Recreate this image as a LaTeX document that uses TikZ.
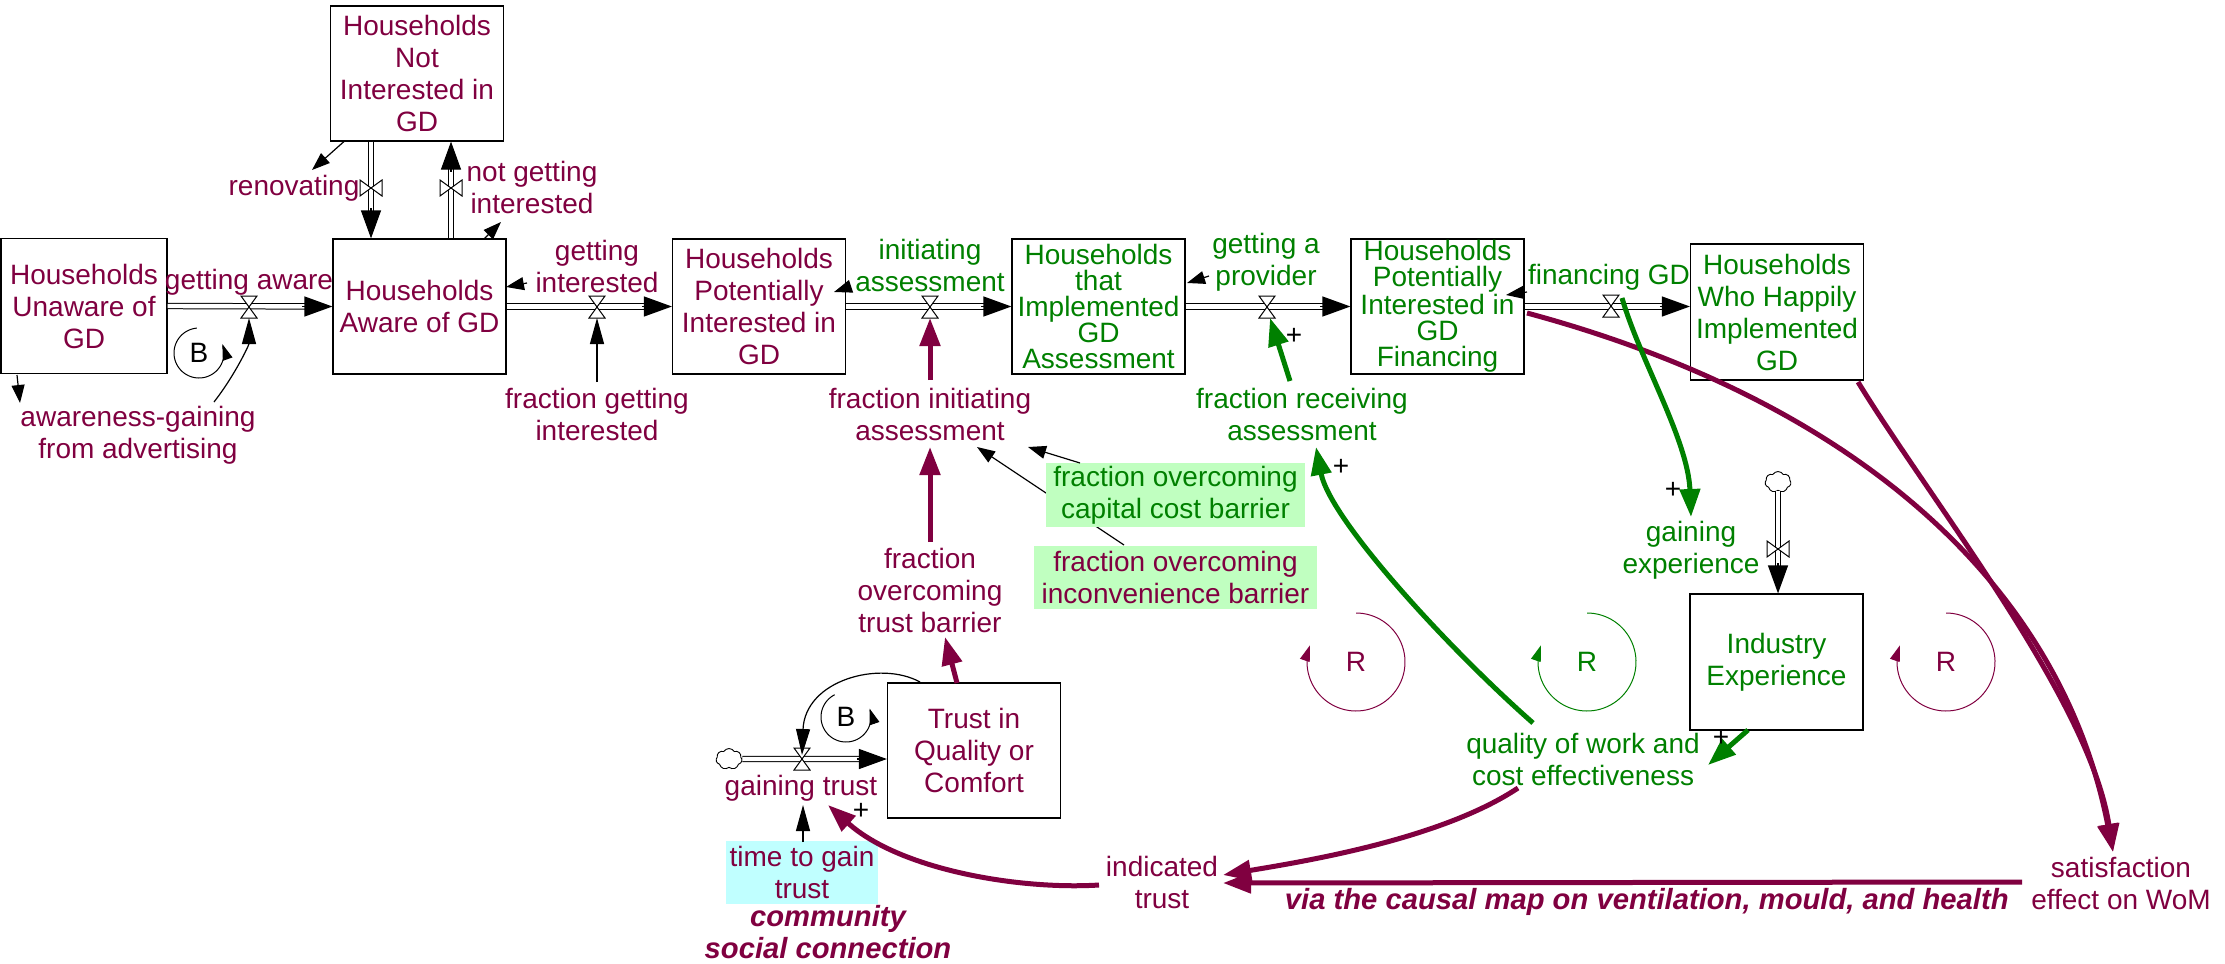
\documentclass[tikz,border=0pt]{standalone}
\usepackage{fontspec}
\setmainfont{Liberation Sans}
\usetikzlibrary{arrows.meta,calc,shapes.symbols}
\definecolor{maroon}{RGB}{128,0,64}
\definecolor{vgreen}{RGB}{0,128,0}
\definecolor{bggreen}{RGB}{192,255,192}
\definecolor{bgcyan}{RGB}{192,255,255}
\newcommand{\fsz}{\fontsize{14}{16}\selectfont}
\newcommand{\fszt}{\fontsize{14}{12.9}\selectfont}
\newcommand{\fszv}{\fontsize{14.6}{16}\selectfont}
\newcommand{\vvalve}[1]{\draw[fill=white,line width=0.5pt] (#1.north west) -- (#1.north east) -- (#1.south west) -- (#1.south east) -- cycle;}
\newcommand{\hvalve}[1]{\draw[fill=white,line width=0.5pt] (#1.north west) -- (#1.south west) -- (#1.north east) -- (#1.south east) -- cycle;}
\begin{document}
\begin{tikzpicture}[x=0.5pt,y=-0.5pt,
  stock/.style={draw=black, line width=0.6pt, minimum width=86.5pt, minimum height=67.5pt, inner sep=0pt, align=center, font=\fsz, text=maroon},
  gstock/.style={stock, text=vgreen},
  lbl/.style={align=center, inner sep=1pt, font=\fsz, text=maroon},
  glbl/.style={lbl, text=vgreen},
  vvalvenode/.style={minimum width=8pt, minimum height=11pt, inner sep=0pt, outer sep=0pt},
  hvalvenode/.style={minimum width=11pt, minimum height=8pt, inner sep=0pt, outer sep=0pt},
  cloudnode/.style={cloud, cloud puffs=7, cloud puff arc=120, cloud ignores aspect, draw=black, fill=white, line width=0.45pt, minimum width=13pt, minimum height=10.5pt, inner sep=0pt},
  pipe/.style={draw=black, double=white, double distance=2.2pt, line width=0.5pt, shorten >=13pt},
  pipehead/.style={draw=black, line width=0.6pt, -{Triangle[length=14pt,width=10pt]}},
  link/.style={draw=black, line width=0.6pt, -{Triangle[length=9pt,width=6.5pt]}},
  vlink/.style={draw=black, line width=0.6pt, -{Triangle[length=13pt,width=7pt]}},
  mthick/.style={draw=maroon, line width=2.5pt, -{Triangle[length=14pt,width=10pt]}},
  gthick/.style={draw=vgreen, line width=2.5pt, -{Triangle[length=14pt,width=10pt]}},
  loopline/.style={line width=0.5pt, -{Triangle[length=8pt,width=5pt]}},
  sign/.style={font=\fsz, inner sep=0pt, text=black},
  looplbl/.style={font=\fsz, inner sep=0pt}
]
\path[use as bounding box] (0,0) rectangle (2225,963);

% ---------- stocks ----------
\node[stock, minimum width=83pt] (unaware) at (84,306) {Households\\Unaware of\\GD};
\node[stock] (notint) at (417,73.5) {Households\\Not\\Interested in\\GD};
\node[stock] (aware) at (419.5,306.5) {Households\\Aware of GD};
\node[stock] (pot) at (759,306.5) {Households\\Potentially\\Interested in\\GD};
\node[gstock, font=\fszt] (impl) at (1098.5,306.5) {Households\\that\\Implemented\\GD\\Assessment};
\node[gstock, font=\fszt] (fin) at (1437.5,306.5) {Households\\Potentially\\Interested in\\GD\\Financing};
\node[gstock, minimum height=68pt] (hap) at (1777,312) {Households\\Who Happily\\Implemented\\GD};
\node[gstock, minimum height=68pt] (ind) at (1776.5,662) {Industry\\Experience};
\node[stock] (trust) at (974,750.5) {Trust in\\Quality or\\Comfort};

% ---------- labels ----------
\node[lbl] (gaware) at (249,282) {getting aware};
\node[lbl] (renov) at (294,188) {renovating};
\node[lbl] (ngi) at (532,187) {not getting\\interested};
\node[lbl] (gint) at (597,266) {getting\\interested};
\node[lbl] (agad) at (138,435) {awareness-gaining\\from advertising};
\node[lbl] (fgi) at (597,414) {fraction getting\\interested};
\node[glbl] (iass) at (930,265) {initiating\\assessment};
\node[glbl] (gprov) at (1266,262) {getting a\\provider};
\node[glbl] (fgd) at (1609,277) {financing GD};
\node[lbl] (fia) at (930,414) {fraction initiating\\assessment};
\node[glbl] (frecv) at (1302,414) {fraction receiving\\assessment};
\node[lbl] (ftb) at (930,590) {fraction\\overcoming\\trust barrier};
\node[glbl] (gexp) at (1691,550) {gaining\\experience};
\node[glbl] (qual) at (1583,759) {quality of work and\\cost effectiveness};
\node[lbl] (sat) at (2121,883) {satisfaction\\effect on WoM};
\node[lbl] (itrust) at (1162,882) {indicated\\trust};
\node[lbl, anchor=east, font=\fszv\bfseries\itshape] (via) at (2011,902) {via the causal map on ventilation, mould, and health};
\node[lbl] (gtrust) at (801,788) {gaining trust};
\node[lbl, fill=bgcyan, minimum width=76pt, minimum height=31.5pt] (ttg) at (802,872.5) {time to gain\\trust};
\node[lbl, font=\fszv\bfseries\itshape] (comm) at (828,932) {community\\social connection};
\node[lbl, fill=bggreen, minimum width=141.5pt, minimum height=31.5pt] (finc) at (1175.5,577.5) {fraction overcoming\\inconvenience barrier};

% ---------- clouds ----------
\node[cloudnode] (c1) at (1778,482) {};
\node[cloudnode] (c2) at (729,759) {};

% ---------- pipes ----------
\draw[pipe] (unaware.east) -- (aware.west);
\draw[pipehead] ($(aware.west)+(-30,0)$) -- (aware.west);
\draw[pipe] (aware.east) -- (pot.west);
\draw[pipehead] ($(pot.west)+(-30,0)$) -- (pot.west);
\draw[pipe] (pot.east) -- (impl.west);
\draw[pipehead] ($(impl.west)+(-30,0)$) -- (impl.west);
\draw[pipe] (impl.east) -- (fin.west);
\draw[pipehead] ($(fin.west)+(-30,0)$) -- (fin.west);
\draw[pipe] (fin.east) -- (fin.east -| hap.west);
\draw[pipehead] ($(fin.east -| hap.west)+(-30,0)$) -- (fin.east -| hap.west);
\draw[pipe] ($(notint.south)+(-46,0)$) -- ($(aware.north)+(-48.5,0)$);
\draw[pipehead] ($(aware.north)+(-48.5,-30)$) -- ($(aware.north)+(-48.5,0)$);
\draw[pipe] ($(aware.north)+(31.5,0)$) -- ($(notint.south)+(34,0)$);
\draw[pipehead] ($(notint.south)+(34,30)$) -- ($(notint.south)+(34,0)$);
\draw[pipe] (c1.south) -- (c1 |- ind.north);
\draw[pipehead] ($(c1 |- ind.north)+(0,-30)$) -- (c1 |- ind.north);
\draw[pipe] (c2.east) -- (c2 -| trust.west);
\draw[pipehead] ($(c2 -| trust.west)+(-30,0)$) -- (c2 -| trust.west);

% ---------- valves ----------
\node[vvalvenode] (v1) at (249,307) {}; \vvalve{v1}
\node[vvalvenode] (v2) at (597,307) {}; \vvalve{v2}
\node[vvalvenode] (v3) at (930,307) {}; \vvalve{v3}
\node[vvalvenode] (v4) at (1267,307) {}; \vvalve{v4}
\node[vvalvenode] (v5) at (1611,306) {}; \vvalve{v5}
\node[hvalvenode] (v6) at (371,188) {}; \hvalve{v6}
\node[hvalvenode] (v7) at (451,188) {}; \hvalve{v7}
\node[hvalvenode] (v8) at (1778,549) {}; \hvalve{v8}
\node[vvalvenode] (v9) at (802,759) {}; \vvalve{v9}

% ---------- thin links ----------
\draw[link] ($(notint)+(-73,68)$) -- ($(renov)+(18,-18)$);
\draw[link] ($(aware)+(64.5,-67.5)$) -- ($(ngi)+(-31,35)$);
\draw[link] ($(gint)+(-70,17)$) -- ($(aware)+(86.5,-19.5)$);
\draw[link] ($(unaware)+(-67,69)$) -- ($(agad)+(-118,-32)$);
\draw[vlink] ($(agad)+(76,-33)$) .. controls (235,375) and (249,345) .. (v1.south);
\draw[vlink] ($(fgi)+(0,-32)$) -- (v2.south);
\draw[link] ($(iass)+(-81,22)$) -- ($(pot)+(75,-14.5)$);
\draw[link] ($(gprov)+(-57,14)$) -- ($(impl)+(88.5,-23.5)$);
\draw[link] ($(fgd)+(-82,15)$) -- ($(fin)+(68.5,-11.5)$);
\draw[link] ($(finc)+(-51.5,-32.5)$) -- ($(fia)+(47,33)$);
\node[glbl, fill=bggreen, minimum width=129.5pt, minimum height=32pt] (fcap) at (1175.5,495) {fraction overcoming\\capital cost barrier};
\draw[link] ($(fcap)+(-95.5,-32)$) -- ($(fia)+(98,33)$);
\draw[vlink] ($(ttg)+(1,-30.5)$) -- ($(gtrust)+(2,17)$);
\draw[vlink] ($(trust)+(-54,-68.5)$) .. controls (880,660) and (805,680) .. ($(v9)+(0,-4)$);

% ---------- loops ----------
\draw[loopline, black] plot[domain=-95:-381, samples=60, smooth] ({199+25*cos(\x)}, {353+25*sin(\x)});
\node[looplbl, text=black] (lb1) at (199,353) {B};
\draw[loopline, black] plot[domain=-117:-380, samples=60, smooth] ({846+25*cos(\x)}, {717+25*sin(\x)});
\node[looplbl, text=black] (lb2) at (846,717) {B};
\draw[loopline, maroon] plot[domain=-90:200, samples=70, smooth] ({1356+49*cos(\x)}, {662+49*sin(\x)});
\node[looplbl, text=maroon] (lr1) at (1356,662) {R};
\draw[loopline, vgreen] plot[domain=-90:200, samples=70, smooth] ({1587+49*cos(\x)}, {662+49*sin(\x)});
\node[looplbl, text=vgreen] (lr2) at (1587,662) {R};
\draw[loopline, maroon] plot[domain=-90:200, samples=70, smooth] ({1946+49*cos(\x)}, {662+49*sin(\x)});
\node[looplbl, text=maroon] (lr3) at (1946,662) {R};

% ---------- thick maroon links ----------
\draw[mthick] ($(ftb)+(0,-48)$) -- ($(fia)+(0,33)$);
\draw[mthick] ($(fia)+(0,-34)$) -- (v3.south);
\draw[mthick] ($(trust)+(-17,-67.5)$) -- ($(ftb)+(15,47)$);
\draw[mthick] ($(qual)+(-65,29)$) .. controls (1440,840) and (1300,862) .. ($(itrust)+(61,-7)$);
\draw[mthick] ($(sat)+(-99,-1)$) -- ($(itrust)+(61,1)$);
\draw[mthick] ($(itrust)+(-63,3)$) .. controls (1020,890) and (900,870) .. ($(gtrust)+(27,17)$);
\draw[mthick] ($(fin)+(89.5,6.5)$) .. controls (1850,400) and (2060,580) .. ($(sat)+(-8,-31)$);
\draw[mthick] ($(hap)+(81,70)$) .. controls (1930,500) and (2090,700) .. ($(sat)+(-8,-31)$);

% ---------- thick green links ----------
\draw[gthick] ($(frecv)+(-12,-33)$) -- ($(v4.south)+(3,0)$);
\draw[gthick] ($(qual)+(-50,-36)$) .. controls (1450,650) and (1330,520) .. ($(frecv)+(14,33)$);
\draw[gthick] ($(ind)+(-28.5,68)$) -- ($(qual)+(125,6)$);
\draw[gthick] ($(v5)+(11,-8)$) .. controls (1640,360) and (1688,440) .. ($(gexp)+(0,-33)$);

% ---------- polarity signs ----------
\node[sign] (s1) at (1294,336) {+};
\node[sign] (s2) at (1341,467) {+};
\node[sign] (s3) at (1673,490) {+};
\node[sign] (s4) at (1721,738) {+};
\node[sign] (s5) at (861,811) {+};
\end{tikzpicture}
\end{document}
